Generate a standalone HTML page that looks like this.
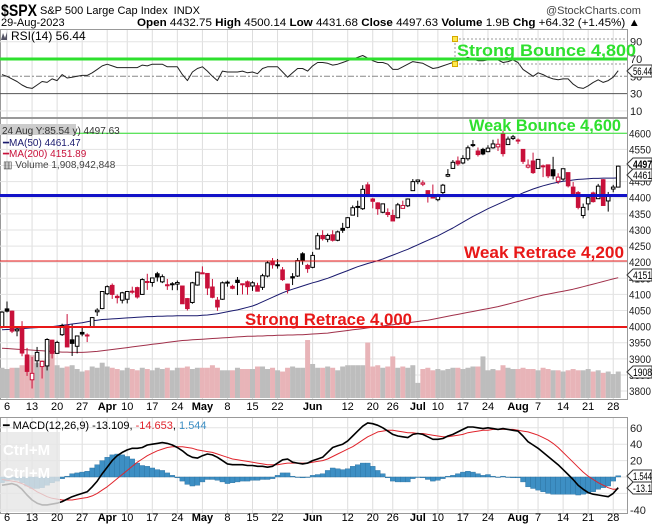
<!DOCTYPE html>
<html><head><meta charset="utf-8"><style>
html,body{margin:0;padding:0;background:#fff;}
svg{display:block;font-family:"Liberation Sans",sans-serif;}
</style></head><body>
<svg id="chart" width="652" height="528" viewBox="0 0 652 528" xmlns="http://www.w3.org/2000/svg">
<rect x="0" y="0" width="652" height="528" fill="#fff"/>
<g>
<text x="1" y="16" font-size="17" font-weight="bold" fill="#000" textLength="36" lengthAdjust="spacingAndGlyphs">$SPX</text>
<text x="40" y="14" font-size="11" fill="#000">S&amp;P 500 Large Cap Index <tspan dx="3">INDX</tspan></text>
<text x="546" y="14" font-size="11" fill="#444">@StockCharts.com</text>
<text x="1" y="26" font-size="11" fill="#000">29-Aug-2023</text>
<text x="137" y="26" font-size="11" fill="#000" textLength="503" lengthAdjust="spacingAndGlyphs"><tspan font-weight="bold">Open</tspan> 4432.75 <tspan font-weight="bold">High</tspan> 4500.14 <tspan font-weight="bold">Low</tspan> 4431.68 <tspan font-weight="bold">Close</tspan> 4497.63 <tspan font-weight="bold">Volume</tspan> 1.9B <tspan font-weight="bold">Chg</tspan> +64.32 (+1.45%) ▲</text>
</g>
<g id="grid"></g>
<g id="marks"></g>
<g id="overlay"></g>
</svg>
<script>
// ---- data ----
const holidays = ['2023-04-07','2023-05-29','2023-06-19','2023-07-04'];
const opens = [3998,4055,4048,3987,3998,3912,3835,3894,3876,3878,3958,3917,3975,4003,3959,3939,3982,3974,3999,4046,4056,
4102,4128,4094,4082,4085,4110,4121,4100,4140,4137,4164,4139,4130,4132,4132,4126,4087,4075,4129,
4166,4165,4123,4082,4085,4136,4125,4144,4133,4139,4126,4127,4122,4157,4204,4190,4176,4132,4155,4157,4226,4190,
4184,4241,4283,4271,4285,4268,4305,4308,4346,4370,4366,4440,4396,4384,4355,4354,4345,4338,4367,4375,4422,
4450,4442,4422,4404,4394,4416,4467,4491,4514,4508,4521,4563,4545,4550,4543,4555,4558,4598,4565,4584,
4579,4550,4495,4514,4491,4499,4502,4487,4451,4458,4478,4433,4416,4345,4381,4415,4397,4456,4390,4427,4433];
const highs = [4048,4078,4050,4000,4017,3934,3906,3937,3894,3964,3959,3956,4009,4039,4007,3972,3997,3979,4030,4057,4110,
4128,4134,4100,4108,4110,4124,4124,4150,4164,4152,4170,4162,4148,4138,4143,4126,4089,4139,4170,
4187,4165,4148,4092,4140,4143,4130,4154,4133,4143,4141,4136,4164,4202,4213,4210,4185,4133,4166,4213,4231,4195,
4232,4291,4299,4289,4299,4298,4322,4340,4376,4391,4439,4448,4400,4386,4382,4367,4363,4384,4391,4398,4458,
4457,4454,4423,4441,4412,4443,4489,4517,4528,4532,4562,4579,4556,4555,4563,4580,4583,4607,4590,4595,
4584,4551,4519,4540,4520,4503,4503,4527,4476,4490,4478,4449,4421,4382,4408,4419,4443,4458,4418,4440,4500];
const lows = [3995,4044,3980,3970,3908,3847,3808,3874,3839,3864,3901,3916,3971,3936,3909,3917,3970,3952,3999,4033,4054,
4098,4086,4072,4072,4072,4102,4087,4099,4114,4124,4140,4135,4114,4113,4113,4071,4050,4071,4127,
4164,4098,4088,4049,4083,4124,4116,4098,4100,4099,4111,4109,4114,4153,4180,4180,4142,4103,4129,4154,4192,4167,
4181,4241,4267,4262,4264,4265,4291,4305,4345,4340,4362,4407,4367,4347,4352,4340,4328,4336,4368,4371,4422,
4442,4436,4385,4398,4389,4407,4464,4490,4499,4504,4515,4557,4528,4532,4541,4552,4545,4528,4564,4579,
4567,4505,4491,4474,4491,4464,4461,4457,4443,4453,4432,4403,4364,4336,4361,4385,4397,4375,4357,4417,4432];
const closes = [4045,4048,3986,3992,3918,3861,3855,3920,3892,3960,3917,3951,4003,3937,3948,3971,3977,3971,4028,4051,4109,
4124,4100,4090,4105,4109,4108,4092,4146,4138,4151,4154,4155,4130,4133,4137,4071,4056,4136,4169,
4167,4120,4091,4061,4136,4138,4119,4137,4130,4124,4136,4110,4158,4198,4192,4192,4146,4115,4151,4205,4206,4180,
4221,4282,4273,4283,4268,4294,4299,4338,4369,4373,4426,4410,4389,4366,4381,4348,4328,4378,4376,4396,4450,
4455,4446,4411,4399,4409,4439,4472,4510,4505,4522,4555,4565,4534,4536,4554,4567,4566,4537,4582,4589,
4577,4513,4501,4478,4519,4499,4468,4468,4464,4490,4437,4404,4370,4370,4400,4388,4436,4376,4406,4433,4498];
const volumes = [2.4,2.3,2.4,2.4,2.6,3.0,3.4,2.8,3.0,3.1,4.2,2.6,2.4,2.5,2.6,2.3,2.1,2.2,2.5,2.4,2.8,
2.5,2.4,2.3,2.2,2.4,2.3,2.2,2.4,2.3,2.2,2.4,2.3,2.4,2.2,2.4,2.4,2.5,2.3,2.4,
2.4,2.4,2.6,2.4,2.2,2.2,2.2,2.4,2.3,2.3,2.3,2.5,2.5,2.3,2.4,2.2,2.1,2.4,2.5,2.4,2.4,4.6,
2.7,2.4,2.4,2.5,2.4,2.2,2.5,2.6,2.6,2.6,2.6,4.4,2.5,2.6,2.4,2.5,3.3,2.4,2.5,2.4,2.6,
1.2,2.3,2.4,2.2,2.3,2.2,2.3,2.4,2.4,2.3,2.4,2.5,2.5,3.3,2.2,2.3,2.2,2.6,2.4,2.3,
2.3,2.4,2.3,2.3,2.2,2.4,2.3,2.2,2.2,2.1,2.2,2.3,2.2,2.2,2.3,2.1,2.2,2.0,2.1,1.9,2.1];
const ma50 = [3990,3991,3992,3993,3994,3995,3996,3997,3998,3999,4000,4002,4004,4006,4008,4010,4012,4015,4018,4020,
4022,4023,4024,4025,4026,4027,4028,4029,4030,4031,4031,4032,4032,4033,4033,4034,4034,4034,4034,4034,
4035,4036,4038,4040,4043,4046,4049,4052,4056,4060,4064,4070,4077,4084,4091,4098,4105,4111,4116,4121,
4126,4131,4136,4140,4145,4150,4156,4162,4168,4174,4180,4186,4191,4196,4200,4205,4210,4216,4222,4228,
4234,4240,4247,4254,4261,4268,4275,4282,4290,4298,4306,4315,4324,4333,4342,4350,4358,4366,4373,4380,
4387,4394,4401,4408,4415,4421,4427,4432,4437,4441,4445,4448,4451,4453,4455,4457,4458,4459,4460,4460,4461,4461,4461,4461.47];
const ma200 = [3933,3932,3931,3930,3929,3928,3927,3926,3925,3924,3923,3922,3921,3921,3920,3920,3920,3921,3922,3923,
3925,3927,3929,3931,3933,3935,3937,3939,3941,3943,3945,3947,3949,3951,3953,3955,3957,3958,3959,3960,
3961,3962,3963,3964,3965,3966,3967,3968,3969,3970,3970,3971,3971,3972,3972,3973,3973,3974,3974,3975,
3975,3976,3977,3978,3979,3980,3982,3984,3986,3988,3990,3992,3994,3996,3998,4000,4002,4004,4006,4008,
4010,4012,4014,4016,4018,4020,4023,4026,4029,4032,4035,4038,4041,4044,4047,4050,4053,4056,4059,4062,
4066,4070,4074,4078,4082,4086,4090,4094,4098,4101,4104,4107,4110,4113,4116,4120,4124,4128,4132,4136,4140,4144,4148,4151.89];
const rsi = [52,50,47,44,40,37,36,40,44,43,47,45,52,48,49,50,51,51,54,58,62,64,62,60,60,60,60,60,63,62,
64,64,64,61,61,61,52,45,55,59,61,56,50,45,56,55,55,55,56,54,55,53,59,61,61,61,55,49,54,59,
59,56,62,66,66,65,63,64,66,68,70,72,74,71,68,66,66,64,58,58,61,64,67,66,65,62,59,60,62,64,
66,68,70,72,70,68,68,69,70,69,66,67,69,66,58,54,50,54,52,49,47,46,47,47,41,37,36,39,43,46,43,45,49,56.44];
const macd = [-10,-9,-8,-10,-15,-22,-28,-32,-34,-34,-33,-32,-30,-27,-24,-22,-20,-18,-12,-5,
4,12,20,26,30,33,35,35,36,39,40,41,42,41,39,36,32,27,24,23,
26,28,27,24,20,16,15,15,15,14,14,13,13,12,13,17,21,22,18,17,
16,17,20,22,24,30,36,38,40,44,50,56,62,66,65,63,60,56,52,50,
49,48,52,53,52,49,46,46,47,50,52,55,58,61,61,60,59,60,59,58,
59,58,57,56,50,43,39,35,30,25,20,15,9,3,-3,-10,-15,-19,-21,-22,-23,-24,-20,-13.109];
const signal = [-3,-4,-5,-6,-8,-11,-14,-18,-21,-24,-26,-27,-28,-28,-28,-27,-26,-25,-23,-20,
-16,-12,-7,-2,3,8,13,18,22,26,29,32,34,36,37,37,37,36,35,33,
32,31,30,28,26,24,22,21,20,19,18,17,16,15,15,15,16,17,17,17,
17,17,18,19,20,22,25,28,31,34,37,41,45,49,52,55,56,57,57,56,
55,54,54,53,53,52,51,50,49,49,50,51,52,54,55,56,57,57,58,58,
58,58,58,57,56,55,53,51,48,45,41,36,30,24,18,12,6,1,-3,-7,-10,-13,-15,-14.653];
const priceTicks = [4600,4550,4500,4450,4400,4350,4300,4250,4200,4150,4100,4050,4000,3950,3900,3850,3800];
const rsiTicks = [90,70,50,30,10];
const macdTicks = [60,40,20,0,-20,-40];

// ---- scales ----
const NS = 'http://www.w3.org/2000/svg';
const RIGHT = 627;
const xOf = i => 2 + i * 5.01;
const pY = p => 133.3 + (4600 - p) * 0.3222;
const rY = v => 76.3 - (v - 50) * 0.865;
const mY = v => 477 - v * 0.82;
const vH = v => v * 12.6;
const VBASE = 398;

function el(tag, attrs, parent) {
  const e = document.createElementNS(NS, tag);
  for (const k in attrs) e.setAttribute(k, attrs[k]);
  parent.appendChild(e);
  return e;
}
const grid = document.getElementById('grid');
const marks = document.getElementById('marks');
const overlay = document.getElementById('overlay');

// dates
const dates = [];
{
  const d = new Date(2023, 2, 3);
  const end = new Date(2023, 7, 29);
  while (d <= end) {
    const wd = d.getDay();
    const key = d.getFullYear() + '-' + String(d.getMonth() + 1).padStart(2, '0') + '-' + String(d.getDate()).padStart(2, '0');
    if (wd !== 0 && wd !== 6 && holidays.indexOf(key) < 0) dates.push(new Date(d));
    d.setDate(d.getDate() + 1);
  }
}

// panels
const panels = [[29, 88, 'rsi-panel'], [118, 281, 'price-panel'], [417, 96, 'macd-panel']];
panels.forEach(p => {
  const r = el('rect', {x: 0.5, y: p[0] + 0.5, width: RIGHT, height: p[1], fill: '#fff', stroke: '#999', 'stroke-width': 1}, grid);
  
  
});

// ticks: week starts, but month name placed at first trading day of month
const months = ['Jan','Feb','Mar','Apr','May','Jun','Jul','Aug','Sep'];
const weekOf = d => Math.floor((d - new Date(2023, 0, 2)) / (7 * 864e5));
const tickList = [];
dates.forEach((d, i) => {
  if (i === 0) return;
  const newMonth = d.getMonth() !== dates[i - 1].getMonth();
  const newWeek = weekOf(d) !== weekOf(dates[i - 1]);
  const last = tickList[tickList.length - 1];
  if (newMonth) {
    if (last && weekOf(dates[last.i]) === weekOf(d)) tickList.pop();
    tickList.push({i: i, label: months[d.getMonth()], bold: true});
  } else if (newWeek) {
    let monthInWeek = false;
    for (let j = i + 1; j < dates.length && weekOf(dates[j]) === weekOf(d); j++) {
      if (dates[j].getMonth() !== dates[j - 1].getMonth()) monthInWeek = true;
    }
    if (monthInWeek) return;
    if (last && i - last.i < 3) return;
    tickList.push({i: i, label: String(d.getDate()), bold: false});
  }
});
tickList.forEach(tk => {
  const x = xOf(tk.i);
  panels.forEach(p => {
    const gl = el('line', {x1: x, x2: x, y1: p[0] + 1, y2: p[0] + p[1], stroke: '#ddd', 'stroke-width': 1}, grid);
    
    
  });
  [410, 521].forEach(y => {
    const t = el('text', {x: x, y: y, 'font-size': 11, 'text-anchor': 'middle', fill: '#000', 'font-weight': tk.bold ? 'bold' : 'normal'}, overlay);
    t.textContent = tk.label;
    
    
  });
});

// price grid + ticks
priceTicks.forEach(p => {
  const y = pY(p);
  const gl = el('line', {x1: 0, x2: RIGHT, y1: y, y2: y, stroke: '#e3e3e3'}, grid);
  
  
  const t = el('text', {x: 629, y: y + 4, 'font-size': 11, fill: '#222', textLength: 22, lengthAdjust: 'spacingAndGlyphs'}, overlay);
  t.textContent = p;
  
  
});
rsiTicks.forEach(v => {
  const y = rY(v);
  const style = v === 30 ? {stroke: '#555'} : v === 50 ? {stroke: '#888', 'stroke-dasharray': '6 2 2 2'} : v === 70 ? {stroke: '#aaa', 'stroke-dasharray': '2 2'} : {stroke: '#e3e3e3'};
  const gl = el('line', Object.assign({x1: 0, x2: RIGHT, y1: y, y2: y}, style), grid);
  
  
  const t = el('text', {x: 630, y: y + 4, 'font-size': 11, fill: '#222'}, overlay);
  t.textContent = v;
  
  
});
macdTicks.forEach(v => {
  const y = mY(v);
  const gl = el('line', {x1: 0, x2: RIGHT, y1: y, y2: y, stroke: '#e3e3e3'}, grid);
  
  
  if (v === 0 || v === -20) return;
  const t = el('text', {x: 630, y: y + 4, 'font-size': 11, fill: '#222'}, overlay);
  t.textContent = v;
  
  
});

// volume
volumes.forEach((v, i) => {
  const down = i > 0 && closes[i] < closes[i - 1];
  const r = el('rect', {x: xOf(i) - 2.5, y: VBASE - vH(v), width: 5, height: vH(v), fill: down ? '#e8b4b8' : '#bdbdbd'}, marks);
  
  
});

function poly(vals, fy, color, w, name, parent) {
  const pts = vals.map((v, i) => xOf(i).toFixed(1) + ',' + fy(v).toFixed(1)).join(' ');
  const pl = el('polyline', {points: pts, fill: 'none', stroke: color, 'stroke-width': w, 'stroke-linejoin': 'round'}, parent || marks);
  
  
}
poly(ma200, pY, '#a0304a', 1, 'ma200-line');
poly(ma50, pY, '#1a1a6e', 1, 'ma50-line');

// candles
closes.forEach((c, i) => {
  const o = opens[i], x = xOf(i);
  const up = i === 0 || c >= closes[i - 1];
  const col = up ? '#000' : '#c8103a';
  const g = el('g', {}, marks);
  
  
  el('line', {x1: x, x2: x, y1: pY(highs[i]), y2: pY(lows[i]), stroke: col, 'stroke-width': 1}, g);
  const top = pY(Math.max(o, c)), h = Math.max(1, Math.abs(pY(o) - pY(c)));
  el('rect', {x: x - 1.8, y: top, width: 3.6, height: h, fill: c > o ? '#fff' : col, stroke: col, 'stroke-width': 1}, g);
});

// RSI and MACD
poly(rsi, rY, '#222', 1, 'rsi-line');
macd.forEach((v, i) => {
  const h = v - signal[i];
  const y0 = mY(0), y1 = mY(h);
  const r = el('rect', {x: xOf(i) - 2.5, y: Math.min(y0, y1), width: 5, height: Math.max(0.5, Math.abs(y1 - y0)), fill: '#3d8fc4', stroke: '#2a6f9e', 'stroke-width': 0.4}, marks);
  
  
});
poly(signal, mY, '#e0242c', 1, 'macd-signal-line');
poly(macd, mY, '#000', 1.6, 'macd-line');
</script>
<script>
(function(){
const NS='http://www.w3.org/2000/svg';
const o=document.getElementById('overlay');
function add(tag,attrs,txt,name,inter){const e=document.createElementNS(NS,tag);for(const k in attrs)e.setAttribute(k,attrs[k]);if(txt!==undefined)e.textContent=txt;o.appendChild(e);return e;}
// watermark
add('rect',{x:0,y:432,width:60,height:80,fill:'#e6e6e6',opacity:0.8},undefined,'ctrl-m-watermark');
add('text',{x:3,y:455,'font-size':15,fill:'#fff','font-weight':'bold'},'Ctrl+M','watermark-text');
add('text',{x:3,y:478,'font-size':15,fill:'#fff','font-weight':'bold'},'Ctrl+M','watermark-text');
// annotations
add('line',{x1:0,x2:627,y1:59,y2:59,stroke:'#2ee02e','stroke-width':3},undefined,'strong-bounce-line');
add('line',{x1:455,x2:627,y1:39,y2:39,stroke:'#999','stroke-dasharray':'2 2'},undefined,'annotation-dotted-top');
add('line',{x1:455,x2:627,y1:64,y2:64,stroke:'#999','stroke-dasharray':'2 2'},undefined,'annotation-dotted-bottom');
add('line',{x1:455,x2:455,y1:39,y2:64,stroke:'#999','stroke-dasharray':'2 2'},undefined,'annotation-dotted-vertical');
add('rect',{x:452.5,y:36.5,width:5,height:5,fill:'#ffe94d',stroke:'#d4a800'},undefined,'annotation-handle');
add('rect',{x:452.5,y:61.5,width:5,height:5,fill:'#ffe94d',stroke:'#d4a800'},undefined,'annotation-handle');
add('text',{x:457,y:56,'font-size':17,'font-weight':'bold',fill:'#2ee02e',textLength:179,lengthAdjust:'spacingAndGlyphs'},'Strong Bounce 4,800','strong-bounce-label');
add('line',{x1:0,x2:627,y1:133.3,y2:133.3,stroke:'#2ee02e','stroke-width':1},undefined,'weak-bounce-line');
add('text',{x:469,y:131,'font-size':17,'font-weight':'bold',fill:'#2ee02e',textLength:152,lengthAdjust:'spacingAndGlyphs'},'Weak Bounce 4,600','weak-bounce-label');
add('line',{x1:0,x2:627,y1:195.5,y2:195.5,stroke:'#1212c8','stroke-width':3},undefined,'support-4400-line');
add('line',{x1:0,x2:627,y1:261,y2:261,stroke:'#e81818','stroke-width':1},undefined,'weak-retrace-line');
add('text',{x:464,y:258,'font-size':17,'font-weight':'bold',fill:'#e81818',textLength:160,lengthAdjust:'spacingAndGlyphs'},'Weak Retrace 4,200','weak-retrace-label');
add('line',{x1:0,x2:627,y1:327,y2:327,stroke:'#e81818','stroke-width':2},undefined,'strong-retrace-line');
add('text',{x:245,y:325,'font-size':17,'font-weight':'bold',fill:'#e81818',textLength:167,lengthAdjust:'spacingAndGlyphs'},'Strong Retrace 4,000','strong-retrace-label');
// legends
add('path',{d:'M1 40 L3 33 L5 38 L7 32 L7 40Z',fill:'#556'},undefined,'rsi-legend-icon');
add('text',{x:11,y:40,'font-size':12,fill:'#000'},'RSI(14) 56.44','rsi-legend');
add('rect',{x:0,y:124,width:76,height:11,fill:'#ccc'},undefined,'crosshair-info-bg');
add('text',{x:2,y:134,'font-size':10,fill:'#333'},'24 Aug Y:85.54 y) 4497.63','crosshair-info');
add('text',{x:3,y:146,'font-size':10,fill:'#1a1a6e'},'━MA(50) 4461.47','ma50-legend');
add('text',{x:3,y:157,'font-size':10,fill:'#c8103a'},'━MA(200) 4151.89','ma200-legend');
add('text',{x:3,y:168,'font-size':10,fill:'#444'},'▥ Volume 1,908,942,848','volume-legend');
const mt=add('text',{x:3,y:429,'font-size':11,fill:'#000'},undefined,'macd-legend');
mt.innerHTML='━ MACD(12,26,9) -13.109, <tspan fill="#e0242c">-14.653</tspan>, <tspan fill="#3d8fc4">1.544</tspan>';
// boxed value labels
function box(y,txt,name,bold){add('path',{d:`M627 ${y} L633 ${y-6} L652 ${y-6} L652 ${y+6} L633 ${y+6} Z`,fill:'#fff',stroke:'#333'},undefined,name+'-box');add('text',{x:633,y:y+4,'font-size':11,fill:'#000','font-weight':bold?'bold':'normal',textLength:19,lengthAdjust:'spacingAndGlyphs'},txt,name);}
box(164,'4497','last-price-label',true);
box(175,'4461','ma50-value-label');
box(275,'4151','ma200-value-label');
box(372,'1908','volume-value-label');
box(71,'56.44','rsi-value-label');
box(476,'1.544','histogram-value-label');
box(488,'-13.1','macd-value-label');
})();
</script>
</body></html>
